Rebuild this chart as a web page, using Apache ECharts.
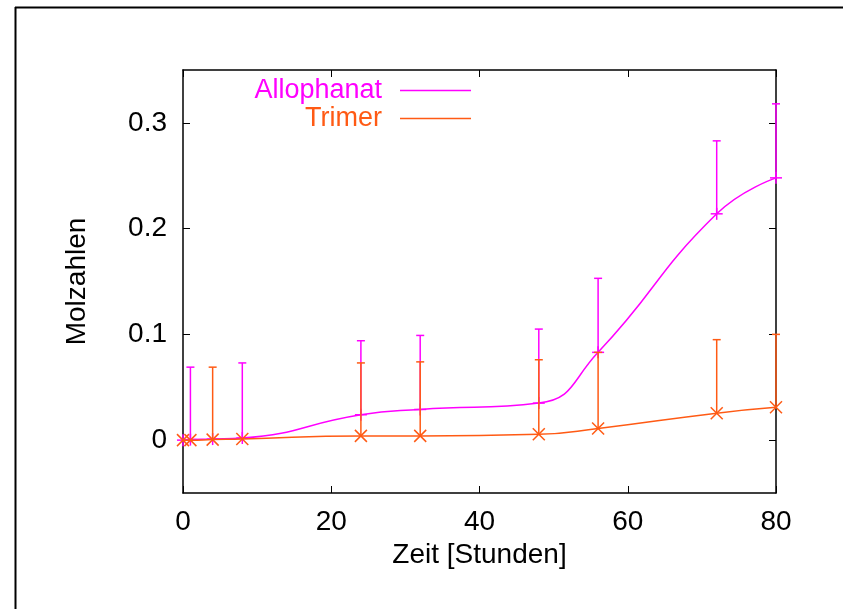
<!DOCTYPE html>
<html>
<head>
<meta charset="utf-8">
<script src="https://cdn.jsdelivr.net/npm/echarts@6/dist/echarts.min.js"></script>
<style>
  html, body { margin: 0; padding: 0; background: #fff; }
  #chart { width: 843px; height: 609px; }
</style>
</head>
<body>
<div id="chart"></div>
<script>
// Reaction times in hours
const hours = [0, 1, 4, 8, 24, 32, 48, 56, 72, 80];

// Mole numbers per product
const allophanat = [0, 0.0005, 0.001, 0.002, 0.024, 0.029, 0.035, 0.083, 0.214, 0.248];
const trimer     = [0, 0, 0.0005, 0.001, 0.004, 0.004, 0.0055, 0.011, 0.0255, 0.031];

// Upper end of each error bar (null = no bar drawn)
const allophanatHigh = [null, 0.069, null, 0.073, 0.094, 0.099, 0.105, 0.153, 0.283, 0.318];
const trimerHigh     = [null, null, 0.069, null, 0.073, 0.074, 0.076, 0.083, 0.095, 0.100];

// Axis tick labels
const xTicks = [0, 20, 40, 60, 80];
const yTicks = [0, 0.1, 0.2, 0.3];

const seriesNames = ['Allophanat', 'Trimer'];
const PINK = '#ff00ff';
const ORANGE = '#ff5a14';
const FONT = 'Liberation Sans, Arial, sans-serif';
const FS = 28;

function rows(xs, ys, highs) {
  return xs.map((x, i) => [x, ys[i], highs[i] == null ? ys[i] : highs[i], highs[i] == null ? 0 : 1]);
}

// Error bar (upward, capped) plus point marker
function makeRender(color, marker) {
  return function (params, api) {
    const x = api.value(0), y = api.value(1), hi = api.value(2), hasBar = api.value(3);
    const p = api.coord([x, y]);
    const children = [];
    const style = { stroke: color, lineWidth: 1.5, fill: null };
    if (hasBar) {
      const t = api.coord([x, hi]);
      children.push({ type: 'line', shape: { x1: p[0], y1: p[1], x2: t[0], y2: t[1] }, style });
      children.push({ type: 'line', shape: { x1: t[0] - 4, y1: t[1], x2: t[0] + 4, y2: t[1] }, style });
    }
    const s = 6;
    if (marker === 'plus') {
      children.push({ type: 'line', shape: { x1: p[0] - s, y1: p[1], x2: p[0] + s, y2: p[1] }, style });
      children.push({ type: 'line', shape: { x1: p[0], y1: p[1] - s, x2: p[0], y2: p[1] + s }, style });
    } else {
      children.push({ type: 'line', shape: { x1: p[0] - s, y1: p[1] - s, x2: p[0] + s, y2: p[1] + s }, style });
      children.push({ type: 'line', shape: { x1: p[0] - s, y1: p[1] + s, x2: p[0] + s, y2: p[1] - s }, style });
    }
    return { type: 'group', children };
  };
}

const axisLine = { show: true, onZero: false, lineStyle: { color: '#000', width: 1.5 } };
const tickIn = { show: true, inside: true, length: 7, lineStyle: { color: '#000', width: 1 } };
const labelStyle = { color: '#000', fontSize: FS, fontFamily: FONT };

function legendFor(name, color, top) {
  return {
    data: [{ name, textStyle: { color } }],
    orient: 'vertical', align: 'right', right: 372, top, padding: 0,
    icon: 'rect', itemWidth: 71, itemHeight: 1.5,
    textStyle: { fontSize: 27, fontFamily: FONT, padding: [0, 13, 0, 0] },
    selectedMode: false
  };
}

const chart = echarts.init(document.getElementById('chart'), null, { renderer: 'canvas' });

chart.setOption({
  backgroundColor: '#fff',
  animation: false,
  grid: { left: 183, top: 70, width: 593, height: 423, containLabel: false },
  legend: [
    legendFor(seriesNames[0], PINK, 77),
    legendFor(seriesNames[1], ORANGE, 105)
  ],
  xAxis: [
    {
      type: 'value', position: 'bottom', min: 0, max: 80, interval: 20,
      axisLine, axisTick: tickIn, splitLine: { show: false },
      axisLabel: { ...labelStyle, margin: 15, customValues: xTicks },
      name: 'Zeit [Stunden]', nameLocation: 'middle', nameGap: 44,
      nameTextStyle: { ...labelStyle }
    },
    {
      type: 'value', position: 'top', min: 0, max: 80, interval: 20,
      axisLine, axisTick: tickIn, splitLine: { show: false },
      axisLabel: { show: false }
    }
  ],
  yAxis: [
    {
      type: 'value', position: 'left', min: -0.05, max: 0.35,
      axisLine, splitLine: { show: false },
      axisTick: { ...tickIn, customValues: yTicks },
      axisLabel: { ...labelStyle, margin: 16, customValues: yTicks,
        formatter: v => (Math.abs(v) < 1e-9 ? '0' : String(Math.round(v * 10) / 10)) },
      name: 'Molzahlen', nameLocation: 'middle', nameGap: 92, nameRotate: 90,
      nameTextStyle: { ...labelStyle }
    },
    {
      type: 'value', position: 'right', min: -0.05, max: 0.35,
      axisLine, splitLine: { show: false },
      axisTick: { ...tickIn, customValues: yTicks },
      axisLabel: { show: false }
    }
  ],
  series: [
    {
      name: seriesNames[0], type: 'line', color: PINK,
      data: hours.map((h, i) => [h, allophanat[i]]),
      smooth: 0.5, showSymbol: false, symbol: 'none',
      lineStyle: { color: PINK, width: 1.5 }, z: 2
    },
    {
      name: seriesNames[0] + ' Fehler', type: 'custom', renderItem: makeRender(PINK, 'plus'),
      data: rows(hours, allophanat, allophanatHigh), encode: { x: 0, y: 1 }, z: 3, clip: false
    },
    {
      name: seriesNames[1], type: 'line', color: ORANGE,
      data: hours.map((h, i) => [h, trimer[i]]),
      smooth: 0.5, showSymbol: false, symbol: 'none',
      lineStyle: { color: ORANGE, width: 1.5 }, z: 4
    },
    {
      name: seriesNames[1] + ' Fehler', type: 'custom', renderItem: makeRender(ORANGE, 'cross'),
      data: rows(hours, trimer, trimerHigh), encode: { x: 0, y: 1 }, z: 5, clip: false
    }
  ],
  graphic: [
    // page frame (top and left edges)
    { type: 'line', shape: { x1: 15, y1: 7.5, x2: 843, y2: 7.5 }, style: { stroke: '#000', lineWidth: 2 } },
    { type: 'line', shape: { x1: 15.5, y1: 7, x2: 15.5, y2: 609 }, style: { stroke: '#000', lineWidth: 2 } }
  ]
});
</script>
</body>
</html>
